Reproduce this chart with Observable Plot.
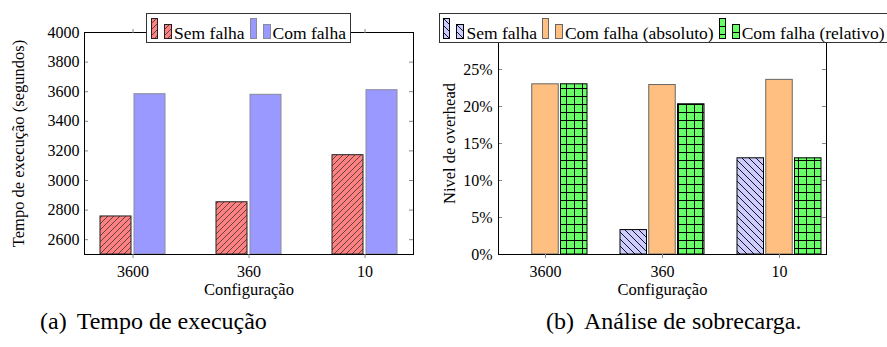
<!DOCTYPE html>
<html><head><meta charset="utf-8">
<script src="https://cdn.jsdelivr.net/npm/d3@7"></script>
<script src="https://cdn.jsdelivr.net/npm/@observablehq/plot@0.6"></script>
<style>
body{margin:0;background:#fff;}
#root{position:relative;width:887px;height:347px;overflow:hidden;font-family:"Liberation Serif",serif;background:#fff;color:#000;}
.chart{position:absolute;top:0;}
.legend{position:absolute;top:13px;height:30px;box-sizing:border-box;border:1px solid #333;background:#fff;font-size:17.5px;line-height:26px;padding-top:4px;white-space:nowrap;text-align:center;overflow:hidden;}
.legend svg{display:inline-block;vertical-align:baseline;overflow:visible;}
.caption{position:absolute;font-size:24px;line-height:24px;white-space:nowrap;}
</style></head><body><div id="root"></div><script>
// ---- data ----
const configs = ["3600", "360", "10"];
const seriesA = ["Sem falha", "Com falha"];
const tempoSemFalha = [2757, 2853, 3171];
const tempoComFalha = [3583, 3579, 3610];
const tempoTicks = [2600, 2800, 3000, 3200, 3400, 3600, 3800, 4000];
const tempoDomain = [2500, 4000];

const seriesB = ["Sem falha", "Com falha (absoluto)", "Com falha (relativo)"];
const overheadSemFalha = [0, 3.3, 13.0];
const overheadAbs = [23.0, 22.9, 23.6];
const overheadRel = [23.0, 20.3, 13.0];
const overheadTicks = [0, 5, 10, 15, 20, 25];
const overheadDomain = [0, 30];

const xLabel = "Configuração";
const yLabelA = "Tempo de execução (segundos)";
const yLabelB = "Nivel de overhead";
const captionA = ["(a)", "Tempo de execução"];
const captionB = ["(b)", "Análise de sobrecarga."];

const root = document.getElementById("root");
root.insertAdjacentHTML("beforeend", `<svg width="0" height="0" style="position:absolute"><defs>
<pattern id="pRed" patternUnits="userSpaceOnUse" width="6" height="6"><rect width="6" height="6" fill="#ff8080"/><path d="M-1,1l2,-2M0,6l6,-6M5,7l2,-2" stroke="#333" stroke-width="0.8"/></pattern>
<pattern id="pBlue" patternUnits="userSpaceOnUse" width="7" height="7"><rect width="7" height="7" fill="#ccccff"/><path d="M-1,6l2,2M0,0l7,7M6,-1l2,2" stroke="#000" stroke-width="0.9"/></pattern>
<pattern id="pGrid" patternUnits="userSpaceOnUse" width="8" height="8"><rect width="8" height="8" fill="#66ff66"/><path d="M0,0.5H8M0.5,0V8" stroke="#000" stroke-width="1"/></pattern>
</defs></svg>`);

const font = {fontFamily: "Liberation Serif", fontSize: "16px", background: "transparent", color: "#000", overflow: "visible"};

// ---- chart A ----
const dataA1 = configs.map((c, i) => ({config: c, value: tempoSemFalha[i]}));
const dataA2 = configs.map((c, i) => ({config: c, value: tempoComFalha[i]}));
const pwA = 420 - 84 - 7;
const chartA = Plot.plot({
  width: 420, height: 300, marginLeft: 84, marginRight: 7, marginTop: 32, marginBottom: 46,
  style: font,
  x: {domain: configs, type: "band", paddingInner: 0.436, paddingOuter: 0.124, axis: null},
  y: {domain: tempoDomain, axis: null},
  marks: [
    Plot.barY(dataA1, {x: "config", y1: tempoDomain[0], y2: "value", fill: "url(#pRed)", stroke: "#222", strokeWidth: 1, insetRight: 34}),
    Plot.barY(dataA2, {x: "config", y1: tempoDomain[0], y2: "value", fill: "#9999ff", stroke: "#8a8a9a", strokeWidth: 1, insetLeft: 34}),
    Plot.tickY(tempoTicks, {y: d => d, stroke: "#888", insetRight: pwA - 4}),
    Plot.tickY(tempoTicks, {y: d => d, stroke: "#888", insetLeft: pwA - 4}),
    Plot.frame({stroke: "#000"}),
    Plot.axisY({ticks: tempoTicks, tickSize: 0, tickPadding: 5, tickFormat: d => String(d), label: null, fontSize: 16}),
    Plot.axisX({tickSize: 4, tickPadding: 7, stroke: "#888", fill: "#000", label: null, fontSize: 16}),
    Plot.axisX({anchor: "top", tickSize: 4, tickFormat: () => "", stroke: "#888", label: null}),
    Plot.text([xLabel], {text: d => d, frameAnchor: "bottom", dy: 40, lineAnchor: "bottom", fontSize: 16.5}),
    Plot.text([yLabelA], {text: d => d, frameAnchor: "left", textAnchor: "middle", rotate: -90, dx: -66, fontSize: 16.5})
  ]
});
chartA.classList.add("chart");
chartA.style.left = "0px";
root.appendChild(chartA);

// ---- chart B ----
const dataB1 = configs.map((c, i) => ({config: c, value: overheadSemFalha[i]}));
const dataB2 = configs.map((c, i) => ({config: c, value: overheadAbs[i]}));
const dataB3 = configs.map((c, i) => ({config: c, value: overheadRel[i]}));
const pwB = 457 - 68 - 61;
const chartB = Plot.plot({
  width: 457, height: 300, marginLeft: 68, marginRight: 61, marginTop: 32, marginBottom: 46,
  style: font,
  x: {domain: configs, type: "band", paddingInner: 0.284, paddingOuter: 0.0415, axis: null},
  y: {domain: overheadDomain, axis: null},
  marks: [
    Plot.barY(dataB1, {x: "config", y1: 0, y2: "value", fill: "url(#pBlue)", stroke: "#000", strokeWidth: 1, insetRight: 57.5}),
    Plot.barY(dataB2, {x: "config", y1: 0, y2: "value", fill: "#ffbf80", stroke: "#666", strokeWidth: 1, insetLeft: 28.75, insetRight: 28.75}),
    Plot.barY(dataB3, {x: "config", y1: 0, y2: "value", fill: "url(#pGrid)", stroke: "#000", strokeWidth: 1, insetLeft: 57.5}),
    Plot.tickY(overheadTicks, {y: d => d, stroke: "#888", insetRight: pwB - 4}),
    Plot.tickY(overheadTicks, {y: d => d, stroke: "#888", insetLeft: pwB - 4}),
    Plot.frame({stroke: "#000"}),
    Plot.axisY({ticks: overheadTicks, tickSize: 0, tickPadding: 6, tickFormat: d => d + "%", label: null, fontSize: 16}),
    Plot.axisX({tickSize: 4, tickPadding: 7, stroke: "#888", fill: "#000", label: null, fontSize: 16}),
    Plot.text([xLabel], {text: d => d, frameAnchor: "bottom", dy: 40, lineAnchor: "bottom", fontSize: 16.5}),
    Plot.text([yLabelB], {text: d => d, frameAnchor: "left", textAnchor: "middle", rotate: -90, dx: -49, fontSize: 16.5})
  ]
});
chartB.classList.add("chart");
chartB.style.left = "430px";
root.appendChild(chartB);

// ---- legends ----
function sw(fill, stroke, w, h, ml) {
  return `<svg width="${w}" height="${h}" style="margin-left:${ml}px"><rect x="0.5" y="0.5" width="${w - 1}" height="${h - 1}" fill="${fill}" stroke="${stroke}"/></svg>`;
}
function entry(label, fill, stroke, first) {
  return sw(fill, stroke, 7, 21, first ? 0 : 5) + sw(fill, stroke, 8, 15, 6) + `<span style="margin-left:2px">${label}</span>`;
}
const legA = document.createElement("div");
legA.className = "legend";
legA.style.left = "146px"; legA.style.width = "205px";
legA.innerHTML = entry(seriesA[0], "url(#pRed)", "#222", true) + entry(seriesA[1], "#9999ff", "#8a8a9a", false);
root.appendChild(legA);

const legB = document.createElement("div");
legB.className = "legend";
legB.style.left = "439px"; legB.style.width = "450px";
legB.innerHTML = entry(seriesB[0], "url(#pBlue)", "#000", true) + entry(seriesB[1], "#ffbf80", "#666", false) + entry(seriesB[2], "url(#pGrid)", "#000", false);
root.appendChild(legB);

// ---- captions ----
function caption(parts, left) {
  const d = document.createElement("div");
  d.className = "caption";
  d.style.left = left + "px"; d.style.top = "309px";
  d.innerHTML = `<span>${parts[0]}</span><span style="margin-left:10px">${parts[1]}</span>`;
  root.appendChild(d);
}
caption(captionA, 40);
caption(captionB, 546);
</script></body></html>
